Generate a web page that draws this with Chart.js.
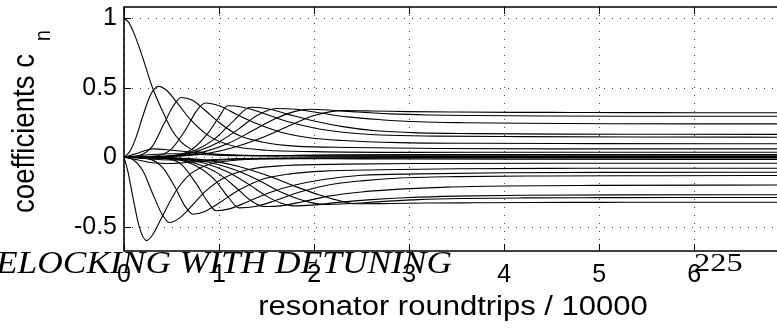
<!DOCTYPE html>
<html>
<head>
<meta charset="utf-8">
<script src="https://cdn.jsdelivr.net/npm/chart.js@4.4.1/dist/chart.umd.min.js"></script>
<style>
  html, body { margin: 0; padding: 0; background: #fff; }
  #wrap { width: 777px; height: 329px; position: relative; }
</style>
</head>
<body>
<div id="wrap"><canvas id="coefChart"></canvas></div>
<script>
// tick values
const xTicks = [0, 1, 2, 3, 4, 5, 6];
const yTicks = [-0.5, 0, 0.5, 1];

// mode coefficients (time in 10000 roundtrips)
const c0T = [0, 0.05, 0.1, 0.15, 0.2, 0.3, 0.4, 0.5, 0.6, 0.7, 0.85, 1.0, 1.3, 2, 3, 4.5, 6.87];
const c0V = [1, 0.97, 0.9, 0.81, 0.71, 0.5, 0.34, 0.2, 0.11, 0.06, 0.03, 0.015, 0.01, 0.015, 0.02, 0.02, 0.02];
const c1T = [0, 0.04, 0.1, 0.16, 0.235, 0.3, 0.4, 0.55, 0.7, 0.9, 1.2, 1.6, 2.5, 4, 6.87];
const c1V = [0, -0.1, -0.31, -0.5, -0.6, -0.56, -0.43, -0.24, -0.12, -0.05, -0.02, -0.01, -0.012, -0.015, -0.017];
const c2T = [0, 0.06, 0.12, 0.2, 0.28, 0.365, 0.45, 0.55, 0.7, 0.9, 1.15, 1.5, 2, 3, 4.5, 6.87];
const c2V = [0, 0.04, 0.13, 0.3, 0.45, 0.51, 0.48, 0.4, 0.27, 0.15, 0.08, 0.05, 0.04, 0.035, 0.036, 0.036];
const c3T = [0, 0.1, 0.2, 0.3, 0.4, 0.48, 0.58, 0.7, 0.85, 1.05, 1.3, 1.7, 2.3, 3.2, 4.5, 6.87];
const c3V = [0, -0.02, -0.1, -0.26, -0.41, -0.47, -0.44, -0.36, -0.25, -0.15, -0.09, -0.06, -0.05, -0.045, -0.043, -0.043];
const c4T = [0, 0.15, 0.3, 0.42, 0.52, 0.6, 0.72, 0.85, 1.0, 1.2, 1.45, 1.8, 2.4, 3.3, 4.5, 6.87];
const c4V = [0, 0.01, 0.08, 0.24, 0.37, 0.43, 0.41, 0.34, 0.25, 0.16, 0.11, 0.08, 0.07, 0.063, 0.06, 0.06];
const c5T = [0, 0.25, 0.4, 0.54, 0.64, 0.725, 0.85, 1.0, 1.2, 1.45, 1.75, 2.1, 2.7, 3.5, 4.8, 6.87];
const c5V = [0, -0.01, -0.07, -0.22, -0.35, -0.41, -0.39, -0.33, -0.24, -0.16, -0.12, -0.1, -0.09, -0.083, -0.08, -0.079];
const c6T = [0, 0.35, 0.5, 0.65, 0.76, 0.855, 1.0, 1.18, 1.4, 1.65, 1.95, 2.3, 2.9, 3.7, 5, 6.87];
const c6V = [0, 0.01, 0.06, 0.2, 0.33, 0.39, 0.37, 0.31, 0.24, 0.18, 0.14, 0.12, 0.105, 0.1, 0.098, 0.097];
const c7T = [0, 0.45, 0.6, 0.76, 0.88, 0.97, 1.12, 1.3, 1.55, 1.8, 2.1, 2.5, 3.1, 4, 5.2, 6.87];
const c7V = [0, -0.01, -0.05, -0.19, -0.32, -0.385, -0.37, -0.32, -0.25, -0.2, -0.16, -0.13, -0.12, -0.112, -0.109, -0.108];
const c8T = [0, 0.5, 0.7, 0.88, 1.0, 1.09, 1.25, 1.45, 1.7, 2.0, 2.3, 2.7, 3.3, 4.2, 5.4, 6.87];
const c8V = [0, 0.01, 0.05, 0.17, 0.29, 0.37, 0.36, 0.32, 0.26, 0.21, 0.18, 0.16, 0.152, 0.148, 0.145, 0.144];
const c9T = [0, 0.5, 0.75, 0.95, 1.1, 1.21, 1.38, 1.6, 1.85, 2.15, 2.5, 2.9, 3.5, 4.4, 5.6, 6.87];
const c9V = [0, -0.01, -0.06, -0.16, -0.29, -0.365, -0.355, -0.31, -0.25, -0.2, -0.17, -0.15, -0.14, -0.135, -0.133, -0.132];
const c10T = [0, 0.5, 0.75, 0.95, 1.15, 1.33, 1.5, 1.72, 2.0, 2.3, 2.65, 3.1, 3.7, 4.6, 5.8, 6.87];
const c10V = [0, 0.01, 0.05, 0.13, 0.26, 0.36, 0.35, 0.31, 0.26, 0.22, 0.19, 0.175, 0.17, 0.166, 0.165, 0.164];
const c11T = [0, 0.52, 0.78, 1.0, 1.18, 1.33, 1.47, 1.65, 1.88, 2.15, 2.5, 2.9, 3.4, 4, 5, 6.87];
const c11V = [0, -0.01, -0.05, -0.12, -0.22, -0.31, -0.355, -0.35, -0.32, -0.28, -0.25, -0.23, -0.215, -0.207, -0.203, -0.2];
const c12T = [0, 0.55, 0.8, 1.0, 1.2, 1.4, 1.6, 1.8, 2.05, 2.35, 2.7, 3.1, 3.6, 4.2, 5.1, 6.87];
const c12V = [0, 0.01, 0.05, 0.11, 0.2, 0.3, 0.35, 0.345, 0.32, 0.29, 0.27, 0.255, 0.248, 0.244, 0.241, 0.24];
const c13T = [0, 0.58, 0.83, 1.07, 1.3, 1.5, 1.65, 1.78, 1.98, 2.25, 2.6, 3.0, 3.5, 4.2, 5.2, 6.87];
const c13V = [0, -0.01, -0.04, -0.1, -0.19, -0.28, -0.33, -0.35, -0.345, -0.325, -0.305, -0.29, -0.28, -0.274, -0.271, -0.27];
const c14T = [0, 0.6, 0.85, 1.1, 1.35, 1.6, 1.8, 1.95, 2.15, 2.45, 2.8, 3.2, 3.7, 4.4, 5.4, 6.87];
const c14V = [0, 0.01, 0.04, 0.1, 0.19, 0.28, 0.33, 0.345, 0.34, 0.325, 0.312, 0.304, 0.3, 0.297, 0.295, 0.295];
const c15T = [0, 0.62, 0.88, 1.12, 1.4, 1.65, 1.88, 2.1, 2.35, 2.7, 3.1, 3.6, 4.2, 5, 5.8, 6.87];
const c15V = [0, -0.01, -0.035, -0.08, -0.16, -0.25, -0.31, -0.34, -0.335, -0.32, -0.305, -0.297, -0.293, -0.291, -0.29, -0.29];
const c16T = [0, 0.65, 0.9, 1.15, 1.45, 1.75, 2.0, 2.3, 2.6, 3.0, 3.5, 4.1, 4.7, 5.3, 6, 6.87];
const c16V = [0, 0.01, 0.03, 0.07, 0.14, 0.23, 0.3, 0.335, 0.333, 0.328, 0.325, 0.323, 0.322, 0.321, 0.32, 0.32];
const c17T = [0, 0.68, 0.95, 1.2, 1.5, 1.8, 2.05, 2.25, 2.45, 2.8, 3.2, 3.7, 4.3, 5, 5.8, 6.87];
const c17V = [0, -0.01, -0.03, -0.065, -0.13, -0.21, -0.27, -0.31, -0.335, -0.333, -0.33, -0.328, -0.326, -0.325, -0.324, -0.324];
// weak modes on the other side, they make the thick band near zero
const mT = [0, 0.15, 0.3, 0.5, 0.8, 1.2, 2, 3.5, 6.87];
const m1V = [0, 0.03, 0.06, 0.05, 0.03, 0.015, 0.008, 0.006, 0.005];
const m2V = [0, -0.02, -0.04, -0.045, -0.03, -0.015, -0.008, -0.006, -0.006];
const m3V = [0, 0.01, 0.02, 0.025, 0.02, 0.012, 0.01, 0.01, 0.01];
const m4V = [0, -0.005, -0.015, -0.02, -0.02, -0.01, -0.004, -0.003, -0.003];

const curves = [
  [c0T, c0V], [c1T, c1V], [c2T, c2V], [c3T, c3V], [c4T, c4V], [c5T, c5V],
  [c6T, c6V], [c7T, c7V], [c8T, c8V], [c9T, c9V], [c10T, c10V], [c11T, c11V],
  [c12T, c12V], [c13T, c13V], [c14T, c14V], [c15T, c15V], [c16T, c16V], [c17T, c17V],
  [mT, m1V], [mT, m2V], [mT, m3V], [mT, m4V]
];

function drawText(ctx, txt, x, y, font, sx, sy, rot, align) {
  ctx.save();
  ctx.translate(x, y);
  if (rot) ctx.rotate(rot);
  ctx.scale(sx, sy);
  ctx.font = font;
  ctx.textAlign = align || 'left';
  ctx.textBaseline = 'alphabetic';
  ctx.fillStyle = '#000';
  ctx.fillText(txt, 0, 0);
  ctx.restore();
}

const frame = {
  id: 'frame',
  beforeDatasetsDraw(chart) {
    const { ctx, chartArea: a, scales: { x, y } } = chart;
    ctx.save();
    ctx.strokeStyle = '#444';
    ctx.lineWidth = 1;
    ctx.setLineDash([1, 7]);
    xTicks.forEach(v => {
      const px = Math.round(x.getPixelForValue(v)) + 0.5;
      ctx.beginPath(); ctx.moveTo(px, a.top); ctx.lineTo(px, a.bottom); ctx.stroke();
    });
    yTicks.forEach(v => {
      const py = Math.round(y.getPixelForValue(v)) + 0.5;
      ctx.beginPath(); ctx.moveTo(a.left, py); ctx.lineTo(a.right, py); ctx.stroke();
    });
    ctx.restore();
  },
  afterDraw(chart) {
    const { ctx, chartArea: a, scales: { x, y } } = chart;
    ctx.save();
    ctx.strokeStyle = '#000';
    ctx.lineWidth = 1.6;
    ctx.beginPath();
    ctx.moveTo(a.right, a.top); ctx.lineTo(a.left, a.top);
    ctx.lineTo(a.left, a.bottom); ctx.lineTo(a.right, a.bottom);
    ctx.stroke();
    ctx.lineWidth = 1;
    xTicks.forEach(v => {
      const px = Math.round(x.getPixelForValue(v)) + 0.5;
      ctx.beginPath();
      ctx.moveTo(px, a.bottom); ctx.lineTo(px, a.bottom - 7);
      ctx.moveTo(px, a.top); ctx.lineTo(px, a.top + 7);
      ctx.stroke();
    });
    yTicks.forEach(v => {
      const py = Math.round(y.getPixelForValue(v)) + 0.5;
      ctx.beginPath(); ctx.moveTo(a.left, py); ctx.lineTo(a.left + 7, py); ctx.stroke();
    });
    ctx.restore();

    // axis titles
    drawText(ctx, 'coefficients c', 34, 213, '31px "Liberation Sans"', 0.89, 1, -Math.PI / 2);
    drawText(ctx, 'n', 50, 41, '22px "Liberation Sans"', 0.89, 1, -Math.PI / 2);
    drawText(ctx, 'resonator roundtrips / 10000', 453, 315, '31px "Liberation Sans"', 1, 0.89, 0, 'center');

    // leftover psfrag text
    ctx.save();
    ctx.font = 'italic 34px "Liberation Serif"';
    const w = ctx.measureText('ELOCKING WITH DETUNING').width;
    ctx.restore();
    drawText(ctx, 'ELOCKING WITH DETUNING', -4, 273, 'italic 34px "Liberation Serif"', 456 / w, 0.9, 0);
    drawText(ctx, '225', 694, 271, '27px "Liberation Serif"', 1.2, 0.9, 0);
  }
};

const tickFont = { family: '"Liberation Sans", Arial, sans-serif', size: 25 };

new Chart(document.getElementById('coefChart').getContext('2d'), {
  type: 'line',
  data: {
    datasets: curves.map(c => ({
      data: c[0].map((t, i) => ({ x: t, y: c[1][i] })),
      borderColor: '#000',
      borderWidth: 1.1,
      pointRadius: 0,
      cubicInterpolationMode: 'monotone',
      fill: false
    }))
  },
  options: {
    responsive: true,
    maintainAspectRatio: false,
    animation: false,
    layout: { padding: { top: 7, right: 0, left: 0, bottom: 0 } },
    plugins: { legend: { display: false }, tooltip: { enabled: false } },
    scales: {
      x: {
        type: 'linear',
        min: 0,
        max: 6.87,
        afterBuildTicks: s => { s.ticks = xTicks.map(v => ({ value: v })); },
        afterFit: s => { s.height = 78; s.paddingLeft = 0; s.paddingRight = 0; },
        grid: { display: false, drawTicks: false },
        border: { display: false },
        ticks: { color: '#000', font: tickFont, padding: 9, maxRotation: 0, callback: v => String(v) }
      },
      y: {
        type: 'linear',
        min: -0.675,
        max: 1.081,
        afterBuildTicks: s => { s.ticks = yTicks.map(v => ({ value: v })); },
        afterFit: s => { s.width = 124; s.paddingTop = 0; s.paddingBottom = 0; },
        grid: { display: false, drawTicks: false },
        border: { display: false },
        ticks: { color: '#000', font: tickFont, padding: 7, callback: v => String(v) }
      }
    }
  },
  plugins: [frame]
});
</script>
</body>
</html>
